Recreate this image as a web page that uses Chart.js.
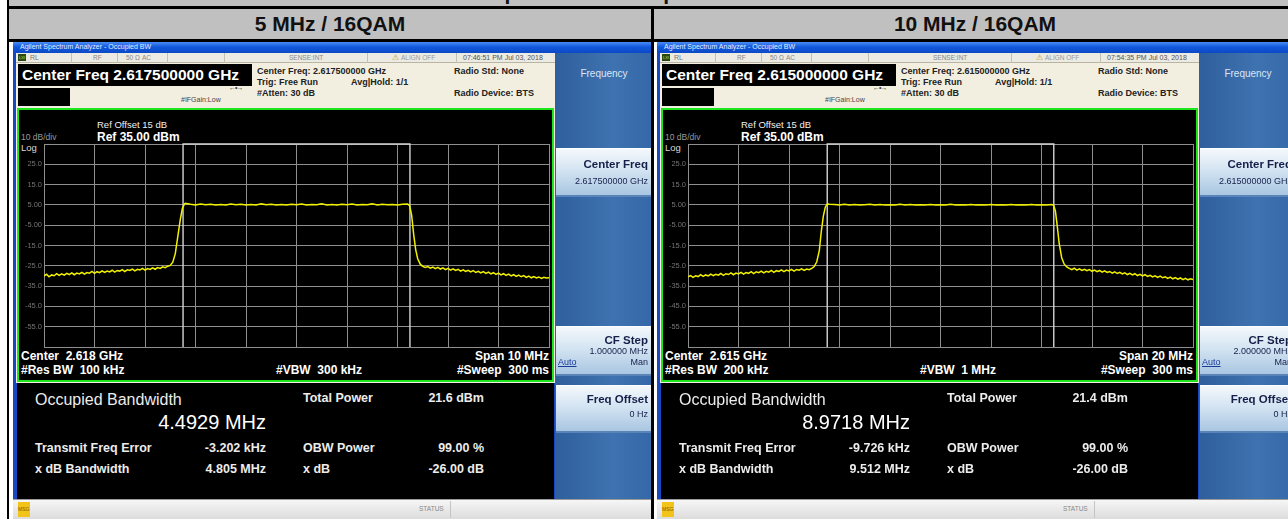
<!DOCTYPE html>
<html><head><meta charset="utf-8">
<script src="https://cdn.jsdelivr.net/npm/chart.js@4"></script>
<style>
html,body{margin:0;padding:0}
body{width:1288px;height:519px;overflow:hidden;background:#fff;position:relative;font-family:"Liberation Sans",Arial,sans-serif}
.a{position:absolute;white-space:pre}
canvas{position:absolute}
</style></head><body>
<script>
// ---------------- data ----------------
const panelTitles = ['5 MHz / 16QAM', '10 MHz / 16QAM'];
const yTickValues = [25, 15, 5, -5, -15, -25, -35, -45, -55];
const yTickLabels = ['25.0', '15.0', '5.00', '-5.00', '-15.0', '-25.0', '-35.0', '-45.0', '-55.0'];
const refLevel = 35, bottomLevel = -65;

// 5 MHz channel, span 10 MHz (offset from 2.6175 GHz, MHz)
const freq5 = [-5.00,-4.95,-4.90,-4.85,-4.80,-4.75,-4.70,-4.65,-4.60,-4.55,-4.50,-4.45,-4.40,-4.35,-4.30,-4.25,-4.20,-4.15,-4.10,-4.05,
 -4.00,-3.95,-3.90,-3.85,-3.80,-3.75,-3.70,-3.65,-3.60,-3.55,-3.50,-3.45,-3.40,-3.35,-3.30,-3.25,-3.20,-3.15,-3.10,-3.05,
 -3.00,-2.95,-2.90,-2.85,-2.80,-2.75,-2.70,-2.65,-2.60,-2.55,
 -2.5,-2.45,-2.4,-2.35,-2.3,-2.26,-2.22,-2.2,
 -2.1,-2.0,-1.9,-1.8,-1.7,-1.6,-1.5,-1.4,-1.3,-1.2,-1.1,-1.0,-0.9,-0.8,-0.7,-0.6,-0.5,-0.4,-0.3,-0.2,-0.1,0.0,0.1,0.2,0.3,0.4,0.5,0.6,0.7,0.8,0.9,1.0,1.1,1.2,1.3,1.4,1.5,1.6,1.7,1.8,1.9,2.0,2.1,
 2.2,2.24,2.28,2.32,2.36,2.4,2.45,2.5,
 2.55,2.60,2.65,2.70,2.75,2.80,2.85,2.90,2.95,3.00,3.05,3.10,3.15,3.20,3.25,3.30,3.35,3.40,3.45,3.50,
 3.55,3.60,3.65,3.70,3.75,3.80,3.85,3.90,3.95,4.00,4.05,4.10,4.15,4.20,4.25,4.30,4.35,4.40,4.45,4.50,
 4.55,4.60,4.65,4.70,4.75,4.80,4.85,4.90,4.95,5.00];
const level5 = [-30.0,-29.2,-30.4,-29.5,-29.9,-28.9,-29.7,-29.0,-29.6,-28.7,-29.3,-28.5,-29.4,-28.6,-29.0,-28.2,-29.1,-28.3,-28.6,-27.8,
 -28.7,-27.9,-28.4,-27.5,-28.3,-27.6,-28.0,-27.2,-28.1,-27.3,-27.6,-26.9,-27.8,-27.0,-27.3,-26.6,-27.5,-26.7,-27.0,-26.3,
 -27.1,-26.4,-26.8,-26.0,-26.7,-25.9,-26.3,-25.5,-25.9,-25.2,
 -24.8,-23.2,-19.0,-10.5,-2.0,3.2,5.4,5.8,
 5.3,5.0,5.4,5.1,5.3,4.9,5.2,5.0,5.4,5.1,5.3,4.9,5.2,5.0,5.5,5.1,5.3,5.0,5.2,4.9,5.3,5.1,5.4,5.0,5.2,5.1,5.6,5.0,5.2,4.9,5.3,5.1,5.4,5.0,5.2,5.1,5.5,5.0,5.3,5.1,5.2,5.0,5.3,
 5.4,4.6,0.0,-9.5,-17.0,-21.5,-24.2,-25.3,
 -25.8,-25.4,-26.2,-25.6,-26.4,-25.8,-26.6,-26.0,-26.9,-26.3,-27.1,-26.5,-27.3,-26.7,-27.6,-27.0,-27.8,-27.2,-28.0,-27.4,
 -28.3,-27.7,-28.5,-27.9,-28.7,-28.1,-29.0,-28.4,-29.2,-28.6,-29.5,-28.9,-29.7,-29.1,-30.0,-29.4,-30.2,-29.6,-30.4,-29.8,
 -30.7,-30.1,-30.9,-30.3,-31.0,-30.5,-31.2,-30.7,-31.0,-30.9];
const obwMarks5 = [-2.2465, 2.2465];
const span5 = [-5, 5];

// 10 MHz channel, span 20 MHz (offset from 2.615 GHz, MHz)
const freq10 = [-10.0,-9.9,-9.8,-9.7,-9.6,-9.5,-9.4,-9.3,-9.2,-9.1,-9.0,-8.9,-8.8,-8.7,-8.6,-8.5,-8.4,-8.3,-8.2,-8.1,
 -8.0,-7.9,-7.8,-7.7,-7.6,-7.5,-7.4,-7.3,-7.2,-7.1,-7.0,-6.9,-6.8,-6.7,-6.6,-6.5,-6.4,-6.3,-6.2,-6.1,
 -6.0,-5.9,-5.8,-5.7,-5.6,-5.5,-5.4,-5.3,-5.2,-5.1,
 -5.0,-4.9,-4.8,-4.72,-4.64,-4.56,-4.48,-4.4,
 -4.2,-4.0,-3.8,-3.6,-3.4,-3.2,-3.0,-2.8,-2.6,-2.4,-2.2,-2.0,-1.8,-1.6,-1.4,-1.2,-1.0,-0.8,-0.6,-0.4,-0.2,0.0,0.2,0.4,0.6,0.8,1.0,1.2,1.4,1.6,1.8,2.0,2.2,2.4,2.6,2.8,3.0,3.2,3.4,3.6,3.8,4.0,4.2,
 4.4,4.48,4.55,4.62,4.7,4.8,4.9,5.0,
 5.1,5.2,5.3,5.4,5.5,5.6,5.7,5.8,5.9,6.0,6.1,6.2,6.3,6.4,6.5,6.6,6.7,6.8,6.9,7.0,
 7.1,7.2,7.3,7.4,7.5,7.6,7.7,7.8,7.9,8.0,8.1,8.2,8.3,8.4,8.5,8.6,8.7,8.8,8.9,9.0,
 9.1,9.2,9.3,9.4,9.5,9.6,9.7,9.8,9.9,10.0];
const level10 = [-30.5,-29.8,-30.7,-29.9,-30.3,-29.4,-30.2,-29.5,-30.0,-29.1,-29.9,-29.2,-29.6,-28.8,-29.7,-28.9,-29.3,-28.5,-29.4,-28.6,
 -29.0,-28.2,-29.1,-28.3,-28.7,-27.9,-28.8,-28.0,-28.4,-27.6,-28.5,-27.7,-28.1,-27.3,-28.2,-27.4,-27.8,-27.0,-27.9,-27.1,
 -27.5,-26.8,-27.6,-26.8,-27.2,-26.5,-27.3,-26.6,-26.9,-26.3,
 -25.4,-23.0,-17.5,-8.0,-0.5,4.0,5.5,5.3,
 5.2,4.9,5.3,5.0,5.2,4.9,5.1,5.3,5.0,5.2,4.9,5.1,5.0,5.3,5.0,5.2,4.9,5.1,5.0,5.2,4.9,5.1,5.0,5.3,5.0,5.1,4.9,5.2,5.0,5.1,4.9,5.2,5.0,5.1,4.9,5.2,5.0,5.1,4.9,5.2,5.0,5.1,4.9,
 5.2,4.8,2.0,-5.0,-14.0,-21.0,-24.2,-25.6,
 -26.3,-26.9,-26.2,-27.1,-26.5,-27.3,-26.7,-27.4,-26.9,-27.7,-27.1,-27.9,-27.3,-28.1,-27.5,-28.3,-27.8,-28.6,-28.0,-28.8,
 -28.2,-29.0,-28.5,-29.3,-28.7,-29.5,-28.9,-29.8,-29.2,-30.0,-29.4,-30.2,-29.7,-30.5,-29.9,-30.7,-30.1,-30.9,-30.4,-31.2,
 -30.6,-31.4,-30.8,-31.6,-31.0,-31.8,-31.2,-31.9,-31.4,-31.8];
const obwMarks10 = [-4.4859, 4.4859];
const span10 = [-10, 10];

// ---------------- helpers ----------------
function R(x,y,w,h,css){const d=document.createElement('div');d.className='a';
 d.style.cssText=`left:${x}px;top:${y}px;width:${w}px;height:${h}px;`+(css||'');document.body.appendChild(d);return d;}
function T(x,y,s,css,al){const d=document.createElement('div');d.className='a';d.textContent=s;
 d.style.cssText=`top:${y-10}px;height:20px;line-height:20px;`+(css||'');
 if(al==='r'){d.style.left=(x-400)+'px';d.style.width='400px';d.style.textAlign='right';}
 else if(al==='c'){d.style.left=(x-320)+'px';d.style.width='640px';d.style.textAlign='center';}
 else d.style.left=x+'px';
 document.body.appendChild(d);return d;}

// ---------------- table frame ----------------
R(9,0,1279,40,'background:#c0c0c0');
T(655,-7,'Spectrum \u2013 Occupied Bandwidth','font-weight:bold;font-size:21px;color:#111','c');
R(7,6,1281,3,'background:#000');
R(7,0,2,519,'background:#000');
R(651,6,3,513,'background:#000');
R(7,39,1281,3,'background:#000');
T(330,24,panelTitles[0],'font-weight:bold;font-size:21px;color:#111','c');
T(975,24,panelTitles[1],'font-weight:bold;font-size:21px;color:#111','c');

// ---------------- analyzer screenshot ----------------
function panel(dx, cfg){
 const X=v=>v+dx;
 R(X(13),42,638,477,'background:#1848c0');
 R(X(13),42,638,11,'background:linear-gradient(#4a8cf6,#1258dc 45%,#0b49c6)');
 T(X(20),47,'Agilent Spectrum Analyzer - Occupied BW','font-size:7px;color:#e6eeff');
 // status row
 R(X(16),53,539,10,'background:#ecebe3;border-bottom:1px solid #b9b5a2;box-sizing:border-box');
 [71,117,167,224,367,456].forEach(s=>R(X(s),53,1,10,'background:#c5c1ae'));
 R(X(18),54,8,7,'background:#2a4a10');
 T(X(19),57.5,'LXI','font-size:4px;color:#b8e060');
 T(X(30),58,'RL','font-size:7px;color:#777');
 T(X(93),58,'RF','font-size:6.5px;color:#888');
 T(X(126),58,'50 \u03a9','font-size:6.5px;color:#888');
 T(X(142),58,'AC','font-size:6.5px;color:#888');
 T(X(289),58,'SENSE:INT','font-size:6.5px;color:#888');
 T(X(392),58,'\u26a0','font-size:8px;color:#c8a000');
 T(X(401),58,'ALIGN OFF','font-size:6.5px;color:#999');
 T(X(463),58,cfg.time,'font-size:7px;color:#555');
 // header area
 R(X(16),63,539,45,'background:#f2efe1');
 R(X(18),64,234,22,'background:#000');
 T(X(22),75,cfg.cfBox,'font-size:15.5px;font-weight:bold;color:#fff');
 R(X(18),88,52,18,'background:#000');
 T(X(257),71,'Center Freq: '+cfg.cf,'font-size:9px;font-weight:bold;color:#222');
 T(X(257),82,'Trig: Free Run','font-size:9px;font-weight:bold;color:#222');
 T(X(257),93,'#Atten: 30 dB','font-size:9px;font-weight:bold;color:#222');
 T(X(351),82,'Avg|Hold: 1/1','font-size:9px;font-weight:bold;color:#222');
 T(X(454),71,'Radio Std: None','font-size:9px;font-weight:bold;color:#222');
 T(X(454),93,'Radio Device: BTS','font-size:9px;font-weight:bold;color:#222');
 T(X(181),100,'#IFGain:Low','font-size:7px;color:#444');
 T(X(229),88,'\u2190\u2022\u2192','font-size:7px;color:#333;letter-spacing:-1px');
 // plot area
 R(X(16),108,539,275,'background:#f2efe1');
 R(X(17),108,537,274,'background:#000;border:2px solid #1ee61e;box-sizing:border-box');
 T(X(97),125,'Ref Offset 15 dB','font-size:9.5px;color:#f0f0f0');
 T(X(97),137,'Ref 35.00 dBm','font-size:12px;font-weight:bold;color:#fff');
 T(X(21),137,'10 dB/div','font-size:8.5px;color:#9a9a9a');
 T(X(21),148,'Log','font-size:9.5px;color:#d8d8d8');
 T(X(21),356,cfg.center,'font-size:12px;font-weight:bold;color:#fff');
 T(X(21),370,cfg.rbw,'font-size:12px;font-weight:bold;color:#fff');
 T(X(276),370,cfg.vbw,'font-size:12px;font-weight:bold;color:#fff');
 T(X(549),356,cfg.span,'font-size:12px;font-weight:bold;color:#fff','r');
 T(X(549),370,'#Sweep  300 ms','font-size:12px;font-weight:bold;color:#fff','r');
 const cv=document.createElement('canvas');
 cv.width=532;cv.height=269;cv.style.left=X(19)+'px';cv.style.top='110px';
 cv.style.width='532px';cv.style.height='269px';
 document.body.appendChild(cv);
 // results
 R(X(17),383,537,117,'background:#000');
 T(X(35),400,'Occupied Bandwidth','font-size:16px;color:#ececec');
 T(X(266),422,cfg.obw,'font-size:20px;color:#fff','r');
 T(X(35),448,'Transmit Freq Error','font-size:12.5px;font-weight:bold;color:#ececec');
 T(X(266),448,cfg.tfe,'font-size:12.5px;font-weight:bold;color:#ececec','r');
 T(X(35),469,'x dB Bandwidth','font-size:12.5px;font-weight:bold;color:#ececec');
 T(X(266),469,cfg.xdbbw,'font-size:12.5px;font-weight:bold;color:#ececec','r');
 T(X(303),398,'Total Power','font-size:12.5px;font-weight:bold;color:#ececec');
 T(X(484),398,cfg.tp,'font-size:12.5px;font-weight:bold;color:#ececec','r');
 T(X(303),448,'OBW Power','font-size:12.5px;font-weight:bold;color:#ececec');
 T(X(484),448,'99.00 %','font-size:12.5px;font-weight:bold;color:#ececec','r');
 T(X(303),469,'x dB','font-size:12.5px;font-weight:bold;color:#ececec');
 T(X(484),469,'-26.00 dB','font-size:12.5px;font-weight:bold;color:#ececec','r');
 // bottom status bar
 R(X(13),499,638,20,'background:linear-gradient(#f6f6f6,#dcdcdc);border-top:1px solid #9a9a9a;box-sizing:border-box');
 R(X(18),502,12,15,'background:#f2c419');
 T(X(18),509,'MSG','font-size:5px;color:#7a5a00');
 T(X(419),509,'STATUS','font-size:6.5px;color:#888');
 R(X(450),501,1,17,'background:#c4c4c4');
 // softkeys
 R(X(555),53,96,446,'background:linear-gradient(90deg,#2f5f9d,#3f72b0 60%,#3468a8)');
 T(X(604),74,'Frequency','font-size:10px;color:#dbe6f4','c');
 const key='background:linear-gradient(#f4f8fc,#d4e4f2 45%,#a9c6e2);border-top:1px solid #fff;border-bottom:2px solid #5a84b8;box-sizing:border-box';
 R(X(556),148,95,49,key);
 T(X(648),164,'Center Freq','font-size:11.5px;font-weight:bold;color:#15204a','r');
 T(X(648),181,cfg.cf,'font-size:9px;color:#15204a','r');
 R(X(556),326,95,50,key);
 T(X(648),340,'CF Step','font-size:11.5px;font-weight:bold;color:#15204a','r');
 T(X(648),351,cfg.step,'font-size:9px;color:#15204a','r');
 T(X(558),362,'Auto','font-size:9px;color:#1a3a9a;text-decoration:underline');
 T(X(648),362,'Man','font-size:9px;color:#15204a','r');
 R(X(556),385,95,48,key);
 T(X(648),399,'Freq Offset','font-size:11.5px;font-weight:bold;color:#15204a','r');
 T(X(648),414,'0 Hz','font-size:9px;color:#15204a','r');
 return cv;
}

const yMap={}; yTickValues.forEach((v,i)=>yMap[v]=yTickLabels[i]);
function spectrum(cv, freqs, levels, span, marks){
 const grid='#8e8e8e';
 new Chart(cv,{
  type:'line',
  data:{datasets:[
   {data:freqs.map((f,i)=>({x:f,y:levels[i]})),borderColor:'#f2f200',borderWidth:1.5,pointRadius:0,tension:0,order:1},
   {data:[{x:marks[0],y:bottomLevel},{x:marks[0],y:refLevel},{x:marks[1],y:refLevel},{x:marks[1],y:bottomLevel}],
    borderColor:'#d4d4d4',borderWidth:1.4,pointRadius:0,tension:0,clip:3,order:2}
  ]},
  options:{
   responsive:false,animation:false,devicePixelRatio:1,
   layout:{padding:{left:0,right:2,top:34,bottom:32}},
   plugins:{legend:{display:false},tooltip:{enabled:false}},
   scales:{
    x:{type:'linear',min:span[0],max:span[1],
       ticks:{display:false,stepSize:(span[1]-span[0])/10},
       grid:{color:grid,drawTicks:false,lineWidth:1},border:{color:grid},
       afterFit:s=>{s.height=0;}},
    y:{min:bottomLevel,max:refLevel,
       ticks:{stepSize:10,padding:2,color:'#737373',font:{size:7.5,family:'Liberation Sans'},callback:v=>yMap[v]!==undefined?yMap[v]:''},
       grid:{color:grid,drawTicks:false,lineWidth:1},border:{color:grid},
       afterFit:s=>{s.width=25;}}
   }
  }
 });
}

const c1=panel(0,{time:'07:46:51 PM Jul 03, 2018',cfBox:'Center Freq 2.617500000 GHz',cf:'2.617500000 GHz',
 center:'Center  2.618 GHz',rbw:'#Res BW  100 kHz',vbw:'#VBW  300 kHz',span:'Span 10 MHz',
 obw:'4.4929 MHz',tfe:'-3.202 kHz',xdbbw:'4.805 MHz',tp:'21.6 dBm',step:'1.000000 MHz'});
const c2=panel(644,{time:'07:54:35 PM Jul 03, 2018',cfBox:'Center Freq 2.615000000 GHz',cf:'2.615000000 GHz',
 center:'Center  2.615 GHz',rbw:'#Res BW  200 kHz',vbw:'#VBW  1 MHz',span:'Span 20 MHz',
 obw:'8.9718 MHz',tfe:'-9.726 kHz',xdbbw:'9.512 MHz',tp:'21.4 dBm',step:'2.000000 MHz'});
spectrum(c1,freq5,level5,span5,obwMarks5);
spectrum(c2,freq10,level10,span10,obwMarks10);
</script>
</body></html>
